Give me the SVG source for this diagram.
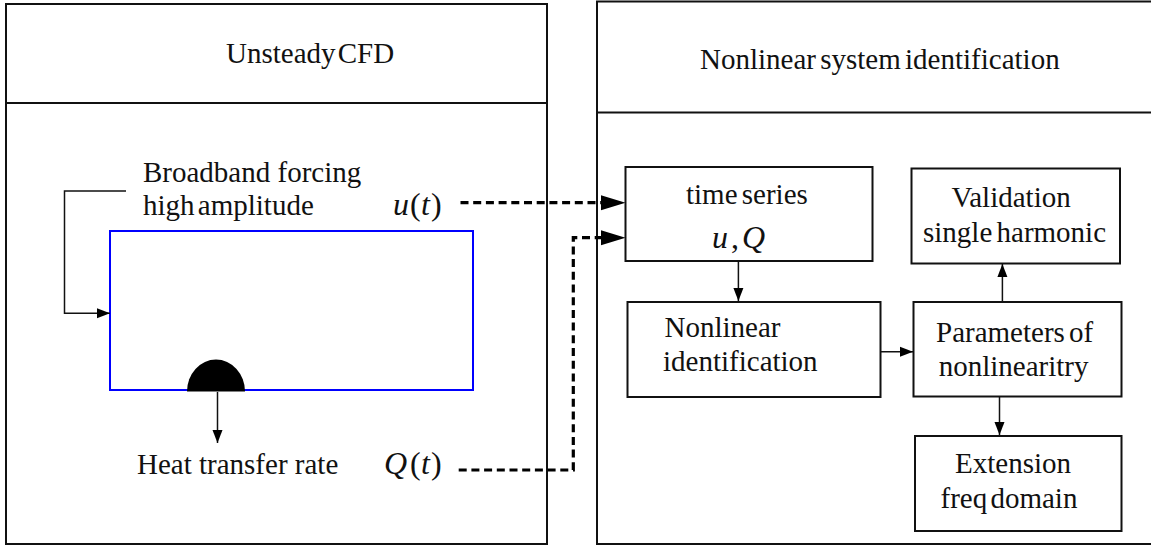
<svg xmlns="http://www.w3.org/2000/svg" width="1151" height="547" viewBox="0 0 1151 547">
<style>
.t{font-family:"Liberation Serif","Times New Roman",serif;font-size:29px;fill:#111;}
.m{font-family:"Liberation Serif","Times New Roman",serif;font-size:32px;fill:#111;}
.i{font-style:italic;}
.panel{fill:none;stroke:#111;stroke-width:2;}
.box{fill:#fff;stroke:#111;stroke-width:2;}
.arr{fill:none;stroke:#111;stroke-width:1.5;}
.dot{fill:none;stroke:#000;stroke-width:3.2;stroke-dasharray:8 4.7;}
</style>
<defs>
<marker id="ah" markerWidth="14" markerHeight="12" refX="13" refY="6" orient="auto" markerUnits="userSpaceOnUse">
<path d="M0,1 L13,6 L0,11 Z" fill="#000"/>
</marker>
</defs>
<rect width="1151" height="547" fill="#fff"/>

<g id="panel-cfd">
<rect class="panel" x="6" y="4" width="541" height="540"/>
<line class="panel" x1="6" y1="103" x2="547" y2="103"/>
<text class="t" x="226" y="63" word-spacing="-5">Unsteady CFD</text>
</g>

<g id="panel-sysid">
<rect class="panel" x="597" y="1.5" width="600" height="542.5"/>
<line class="panel" x1="597" y1="112.5" x2="1151" y2="112.5"/>
<text class="t" x="700" y="69" word-spacing="-3">Nonlinear system identification</text>
</g>

<g id="domain">
<rect x="110" y="231" width="363" height="159" fill="none" stroke="#0000ff" stroke-width="2"/>
<path d="M187,391.5 A29,32 0 0 1 245,391.5 Z" fill="#000"/>
</g>

<g id="labels-cfd">
<text class="t" x="143" y="181.5">Broadband forcing</text>
<text class="t" x="143" y="215" word-spacing="-4">high amplitude</text>
<text class="t" x="137" y="474">Heat transfer rate</text>
<text class="m" y="215"><tspan class="i" x="393">u</tspan><tspan x="410">(</tspan><tspan class="i" x="421">t</tspan><tspan x="431">)</tspan></text>
<text class="m" y="474"><tspan class="i" x="384">Q</tspan><tspan x="410">(</tspan><tspan class="i" x="421">t</tspan><tspan x="431">)</tspan></text>
</g>

<g id="time-series">
<rect class="box" x="625.5" y="167" width="247" height="94"/>
<text class="t" x="686" y="204" word-spacing="-3">time series</text>
<text class="m" y="248"><tspan class="i" x="712">u</tspan><tspan x="731">,</tspan><tspan class="i" x="742">Q</tspan></text>
</g>

<g id="validation">
<rect class="box" x="911.5" y="168.5" width="208.5" height="95"/>
<text class="t" x="951.5" y="206.7">Validation</text>
<text class="t" x="923" y="242" word-spacing="-3">single harmonic</text>
</g>

<g id="nonlinear-identification">
<rect class="box" x="627.5" y="302" width="253" height="95"/>
<text class="t" x="664.5" y="336.7">Nonlinear</text>
<text class="t" x="663" y="370.7">identification</text>
</g>

<g id="parameters">
<rect class="box" x="913.5" y="302" width="208" height="94.5"/>
<text class="t" x="936" y="341.7" word-spacing="-3">Parameters of</text>
<text class="t" x="938.7" y="376">nonlinearitry</text>
</g>

<g id="extension">
<rect class="box" x="915" y="436" width="206.5" height="95"/>
<text class="t" x="955" y="473.3">Extension</text>
<text class="t" x="940.5" y="508.3" word-spacing="-4">freq domain</text>
</g>

<g id="connectors">
<path class="arr" d="M126,191 H64.5 V313.3 H110" marker-end="url(#ah)"/>
<path class="arr" d="M217.5,392 V443" marker-end="url(#ah)"/>
<path class="dot" d="M460.5,202.7 H603"/>
<path d="M601,195.2 L625.5,202.7 L601,210.2 Z" fill="#000"/>
<path class="dot" d="M458.7,470 H573.3 V237.7 H603"/>
<path d="M601,230.2 L625.5,237.7 L601,245.2 Z" fill="#000"/>
<path class="arr" d="M738.4,261 V301" marker-end="url(#ah)"/>
<path class="arr" d="M880.5,351.7 H913" marker-end="url(#ah)"/>
<path class="arr" d="M1002.4,302 V264" marker-end="url(#ah)"/>
<path class="arr" d="M999.5,396.5 V435" marker-end="url(#ah)"/>
</g>
</svg>
